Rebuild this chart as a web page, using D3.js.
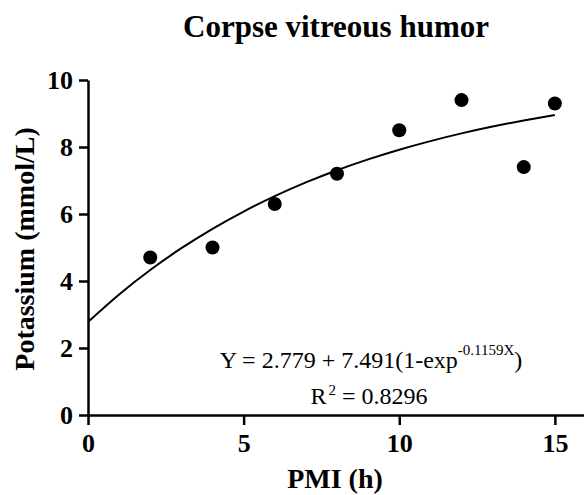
<!DOCTYPE html>
<style>
    body {
        margin: 0;
        overflow: hidden;
        background: #fff;
    }
    text {
        font-family: "Liberation Serif", "Times New Roman", serif;
    }
</style>
<div id="container"></div>
<script src="https://cdn.jsdelivr.net/npm/d3@7"></script>
<script>
    // measured points: PMI (h) vs potassium (mmol/L)
    const pmi = [2, 4, 6, 8, 10, 12, 14, 15];
    const potassium = [4.7, 5.0, 6.3, 7.2, 8.5, 9.4, 7.4, 9.3];

    // fitted curve as it appears in the picture
    const curveX = [0, 1, 2, 3, 4, 5, 6, 7, 8, 9, 10, 11, 12, 13, 14, 15];
    const curveY = [2.779, 3.599, 4.329, 4.979, 5.558, 6.074, 6.533, 6.942,
        7.306, 7.630, 7.919, 8.176, 8.406, 8.610, 8.791, 8.953];

    const xTicks = [0, 5, 10, 15];
    const yTicks = [0, 2, 4, 6, 8, 10];

    const width = 584, height = 495;

    const svg = d3.select("#container").append("svg")
        .attr("width", width)
        .attr("height", height);

    const x = d3.scaleLinear().domain([0, 16]).range([88, 586]);
    const y = d3.scaleLinear().domain([0, 10]).range([415, 80]);

    // title
    svg.append("text")
        .attr("x", 336).attr("y", 37)
        .attr("text-anchor", "middle")
        .attr("font-weight", "bold")
        .attr("font-size", 31)
        .text("Corpse vitreous humor");

    // axes
    const xAxis = svg.append("g")
        .attr("transform", `translate(0,${y(0)})`)
        .call(d3.axisBottom(x).tickValues(xTicks).tickSize(10).tickSizeOuter(0).tickPadding(9));
    const yAxis = svg.append("g")
        .attr("transform", `translate(${x(0)},0)`)
        .call(d3.axisLeft(y).tickValues(yTicks).tickSize(9).tickSizeOuter(0).tickPadding(6));

    [xAxis, yAxis].forEach(g => {
        g.select(".domain").attr("stroke", "#000").attr("stroke-width", 2.5);
        g.selectAll(".tick line").attr("stroke", "#000").attr("stroke-width", 2.5);
        g.selectAll(".tick text")
            .attr("fill", "#000")
            .attr("font-family", "Liberation Serif, serif")
            .attr("font-weight", "bold")
            .attr("font-size", 26);
    });
    yAxis.selectAll(".tick text").attr("dy", "0.34em");

    // axis titles
    svg.append("text")
        .attr("x", 335).attr("y", 488)
        .attr("text-anchor", "middle")
        .attr("font-weight", "bold")
        .attr("font-size", 28)
        .text("PMI (h)");

    svg.append("text")
        .attr("transform", "translate(34,249) rotate(-90)")
        .attr("text-anchor", "middle")
        .attr("font-weight", "bold")
        .attr("font-size", 28)
        .text("Potassium (mmol/L)");

    // fitted curve
    const line = d3.line()
        .x((d, i) => x(curveX[i]))
        .y(d => y(d))
        .curve(d3.curveNatural);

    svg.append("path")
        .datum(curveY)
        .attr("fill", "none")
        .attr("stroke", "#000")
        .attr("stroke-width", 2)
        .attr("d", line);

    // points
    svg.append("g").selectAll("circle")
        .data(potassium)
        .join("circle")
        .attr("cx", (d, i) => x(pmi[i]))
        .attr("cy", d => y(d))
        .attr("r", 7)
        .attr("fill", "#000");

    // equation
    const eq = svg.append("text")
        .attr("x", 371).attr("y", 368)
        .attr("text-anchor", "middle")
        .attr("font-size", 24);
    eq.append("tspan").text("Y = 2.779 + 7.491(1-exp");
    eq.append("tspan").attr("font-size", 15).attr("dy", -13).text("-0.1159X");
    eq.append("tspan").attr("dy", 13).text(")");

    const r2 = svg.append("text")
        .attr("x", 369).attr("y", 404)
        .attr("text-anchor", "middle")
        .attr("font-size", 24);
    r2.append("tspan").text("R");
    r2.append("tspan").attr("font-size", 15).attr("dy", -9).attr("dx", 2).text("2");
    r2.append("tspan").attr("dy", 9).text(" = 0.8296");
</script>
